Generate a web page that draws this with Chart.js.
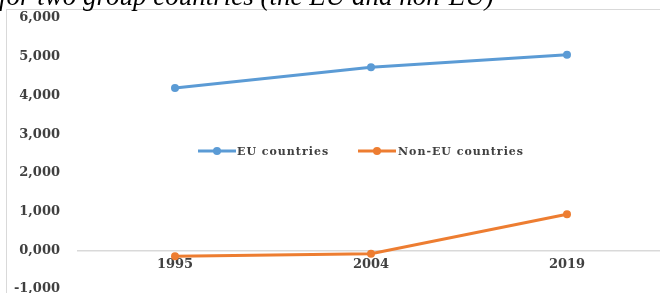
<!DOCTYPE html>
<html>
<head>
<meta charset="utf-8">
<script src="https://cdn.jsdelivr.net/npm/chart.js@4.4.1/dist/chart.umd.min.js"></script>
<style>
  html, body { margin: 0; padding: 0; background: #fff; }
  body { width: 660px; height: 293px; overflow: hidden; position: relative; }
  #frame { position: absolute; left: 6px; top: 9px; width: 700px; height: 400px;
           border-left: 1px solid #d9d9d9; border-top: 1px solid #d9d9d9; }
  #title { position: absolute; left: -1px; top: -17px; white-space: nowrap;
           font: italic 27px 'Liberation Serif', 'Times New Roman', serif; line-height: 27px; color: #000; }
  #Chart01 { position: absolute; left: 0; top: 0; }
</style>
</head>
<body>
<div id="frame"></div>
<canvas id="Chart01" width="670" height="293"></canvas>
<div id="title">for two group countries (the EU and non-EU)</div>
<script>
/* Data */
const years = ['1995', '2004', '2019'];
const euValues = [4190, 4730, 5050];
const nonEuValues = [-155, -90, 933];
const seriesNames = ['EU countries', 'Non-EU countries'];
const seriesColors = ['#5B9BD5', '#ED7D31'];

const tickFont = { family: "'DejaVu Serif', serif", size: 13, weight: 'bold' };

// Excel style "6,000" labels
function fmt(v) {
  return (v < 0 ? '-' : '') + Math.abs(v / 1000) + ',000';
}

/* Legend drawn in the middle of the plot */
const midLegend = {
  id: 'midLegend',
  afterDraw(chart) {
    const ctx = chart.ctx;
    const y = 151;
    const items = [
      { x: 198, text: 237 },
      { x: 358, text: 398 }
    ];
    ctx.save();
    ctx.font = "bold 11px 'DejaVu Serif', serif";
    ctx.letterSpacing = '1px';
    ctx.textBaseline = 'middle';
    items.forEach((it, i) => {
      ctx.strokeStyle = seriesColors[i];
      ctx.lineWidth = 3;
      ctx.beginPath();
      ctx.moveTo(it.x, y);
      ctx.lineTo(it.x + 38, y);
      ctx.stroke();
      ctx.fillStyle = seriesColors[i];
      ctx.beginPath();
      ctx.arc(it.x + 19, y, 4, 0, Math.PI * 2);
      ctx.fill();
      ctx.fillStyle = '#404040';
      ctx.fillText(seriesNames[i], it.text, y + 1);
    });
    ctx.restore();
  }
};

const config01 = {
  type: 'line',
  data: {
    labels: years,
    datasets: [{
      label: seriesNames[0],
      data: euValues,
      borderColor: seriesColors[0],
      backgroundColor: seriesColors[0],
      borderWidth: 3,
      pointRadius: 4,
      pointBorderWidth: 0,
      pointBackgroundColor: seriesColors[0]
    }, {
      label: seriesNames[1],
      data: nonEuValues,
      borderColor: seriesColors[1],
      backgroundColor: seriesColors[1],
      borderWidth: 3,
      pointRadius: 4,
      pointBorderWidth: 0,
      pointBackgroundColor: seriesColors[1]
    }]
  },
  options: {
    responsive: false,
    animation: false,
    layout: { padding: { left: 0, right: 5, top: 18, bottom: 4 } },
    plugins: {
      legend: { display: false },
      title: { display: false },
      tooltip: { enabled: false }
    },
    scales: {
      x: {
        offset: true,
        position: { y: 0 },
        grid: { display: false, drawTicks: false },
        border: { display: false },
        ticks: { color: '#404040', font: tickFont, padding: 7, maxRotation: 0 },
        afterFit: (s) => { s.height = 0; }
      },
      y: {
        min: -1000,
        max: 6000,
        ticks: { stepSize: 1000, color: '#404040', font: tickFont, padding: 17, callback: (v) => fmt(v) },
        grid: {
          drawTicks: false,
          color: (c) => (c.tick && c.tick.value === 0 ? '#d9d9d9' : 'rgba(0,0,0,0)'),
          lineWidth: 1.5
        },
        border: { display: false },
        afterFit: (s) => { s.width = 77; s.paddingTop = 0; s.paddingBottom = 0; }
      }
    }
  },
  plugins: [midLegend]
};

const ctxch01 = document.getElementById('Chart01');
new Chart(ctxch01, config01);
</script>
</body>
</html>
